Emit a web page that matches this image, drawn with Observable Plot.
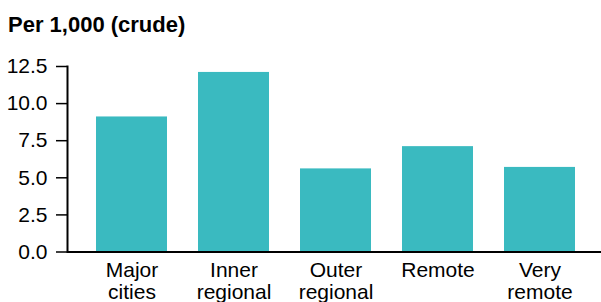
<!DOCTYPE html>
<html>
<head>
<meta charset="utf-8">
<script src="https://cdn.jsdelivr.net/npm/d3@7"></script>
<script src="https://cdn.jsdelivr.net/npm/@observablehq/plot@0.6"></script>
<style>
  body { margin: 0; background: #fff; font-family: "Liberation Sans", Arial, sans-serif; }
  #title { height: 40px; position: relative; }
  #title span { position: absolute; left: 8px; top: 13.5px; font-weight: bold; font-size: 22px; line-height: 22px; color: #000; }
  #chart svg { display: block; }
</style>
</head>
<body>
<div id="title"><span>Per 1,000 (crude)</span></div>
<div id="chart"></div>
<script>
const categories = ["Major cities", "Inner regional", "Outer regional", "Remote", "Very remote"];
const values = [9.1, 12.1, 5.6, 7.1, 5.7];
const yTicks = [0, 2.5, 5, 7.5, 10, 12.5];

const data = categories.map((c, i) => ({category: c, value: values[i]}));
const teal = "#3abac0";

const plot = Plot.plot({
  width: 601,
  height: 270,
  marginTop: 26,
  marginLeft: 67,
  marginRight: 0,
  marginBottom: 58.5,
  style: {fontFamily: "'Liberation Sans', Arial, sans-serif", fontSize: "21px", color: "#000", background: "#fff"},
  x: {domain: categories, range: [66, 605], paddingInner: 0.3, paddingOuter: 0.27, label: null},
  y: {domain: [0, 12.5], label: null},
  marks: [
    Plot.barY(data, {x: "category", y: "value", fill: teal}),
    Plot.axisY({ticks: yTicks, tickFormat: d3.format(".1f"), tickSize: 11, tickPadding: 9, strokeWidth: 1.5, label: null}),
    Plot.axisX({tickSize: 0, tickPadding: 8.6, lineHeight: 1.08, tickFormat: d => d.replace(" ", "\n"), label: null}),
    Plot.frame({anchor: "left", strokeWidth: 2}),
    Plot.ruleY([0], {strokeWidth: 2})
  ]
});
document.getElementById("chart").appendChild(plot);
</script>
</body>
</html>
